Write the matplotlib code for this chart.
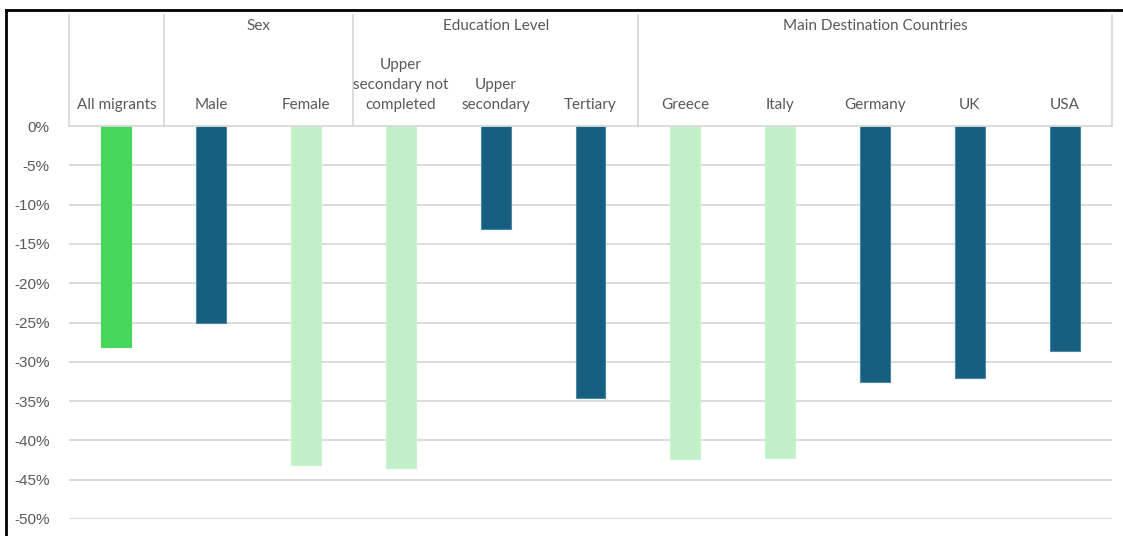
import numpy as np
import matplotlib
matplotlib.use("Agg")
from matplotlib import pyplot as plt
from matplotlib.lines import Line2D

plt.rcParams['font.family'] = ['Lato', 'DejaVu Sans']

# data
categories = ["All migrants", "Male", "Female", "Upper\nsecondary not\ncompleted",
              "Upper\nsecondary", "Tertiary", "Greece", "Italy", "Germany", "UK", "USA"]
values = [-28.1, -25.1, -43.1, -43.5, -13.1, -34.6, -42.4, -42.2, -32.6, -32.1, -28.6]
groups = ["Sex", "Education Level", "Main Destination Countries"]
group_centers = [1.5, 4, 8]
separators = [-0.5, 0.5, 2.5, 5.5, 10.5]

c_all = '#48D65C'
c_dark = '#165F80'
c_light = '#C1F0C8'
colors = [c_all, c_dark, c_light, c_light, c_dark, c_dark, c_light, c_light, c_dark, c_dark, c_dark]
edges = ['#48D65C', '#4C86A3', '#C9F2CF', '#C9F2CF', '#4C86A3', '#4C86A3',
         '#C9F2CF', '#C9F2CF', '#4C86A3', '#4C86A3', '#4C86A3']

grey = '#595959'
gridc = '#D9D9D9'

W, H = 1123, 536
fig = plt.figure(figsize=(W / 100, H / 100), dpi=100)
ax = fig.add_axes([69 / W, 1 - 519 / H, (1112 - 69) / W, (519 - 126) / H])

x = np.arange(len(categories))
ax.bar(x, values, width=0.315, color=colors, edgecolor=edges, linewidth=0.8, zorder=3)

ax.set_xlim(-0.5, 10.5)
ax.set_ylim(-50, 0)
ticks = np.arange(0, -51, -5)
ax.set_yticks(ticks)
ax.set_yticklabels([f"{t}%" for t in ticks], color=grey, fontsize=11,
                   family=['Liberation Sans', 'DejaVu Sans'])
ax.tick_params(axis='y', length=0, pad=14)
ax.set_xticks([])
for s in ax.spines.values():
    s.set_visible(False)
for t in ticks[1:]:
    ax.axhline(t, color=gridc, lw=1.3, zorder=1)

# header box
trans = ax.get_xaxis_transform()
top = (519 - 15) / 393
ax.plot([-0.5, 10.5], [1, 1], transform=trans, color=gridc, lw=1.3, clip_on=False, zorder=4)
for s in separators:
    ax.plot([s, s], [1, top], transform=trans, color=gridc, lw=1.3, clip_on=False)

for i, c in enumerate(categories):
    ax.text(i, (519 - 112) / 393, c, transform=trans, ha='center', va='bottom',
            multialignment='center', fontsize=11, color=grey, linespacing=1.55)
for g, gc in zip(groups, group_centers):
    ax.text(gc, (519 - 26) / 393, g, transform=trans, ha='center', va='center',
            fontsize=11, color=grey)

# black frame
fig.add_artist(Line2D([5.5 / W, 5.5 / W], [0, 1 - 9.5 / H], color='black', lw=2))
fig.add_artist(Line2D([5.5 / W, 1], [1 - 9.5 / H, 1 - 9.5 / H], color='black', lw=2))

fig.savefig("out.png", dpi=100)
